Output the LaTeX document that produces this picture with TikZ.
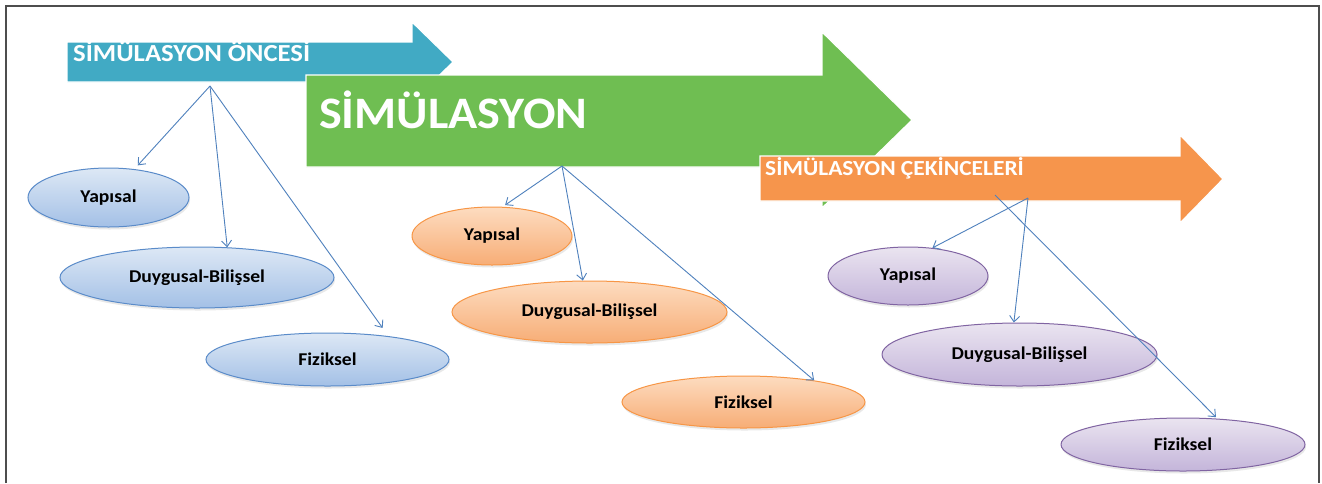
\documentclass[tikz,border=0pt]{standalone}
\usepackage{fontspec}
\setmainfont{Carlito}
\usetikzlibrary{arrows.meta,shapes.geometric,shadows}
\definecolor{framec}{HTML}{4D4D4D}
\definecolor{arrblue}{HTML}{41AAC4}
\definecolor{arrgreen}{HTML}{6FBE52}
\definecolor{arrorange}{HTML}{F6954C}
\definecolor{linec}{HTML}{4F81BD}
\definecolor{bTop}{HTML}{DDE8F5}
\definecolor{bBot}{HTML}{A3C0E6}
\definecolor{bLine}{HTML}{5A8BC9}
\definecolor{oTop}{HTML}{FDDCC0}
\definecolor{oBot}{HTML}{F7AD76}
\definecolor{oLine}{HTML}{F79646}
\definecolor{pTop}{HTML}{EAE4F0}
\definecolor{pBot}{HTML}{C4B5DA}
\definecolor{pLine}{HTML}{8064A2}
\newcommand{\wide}[1]{\scalebox{1.09}[1]{#1}}
\tikzset{
  bigarrow/.style={draw=white, line width=1.2pt},
  arrlabel/.style={anchor=base west, inner sep=0pt, text=white, font=\bfseries},
  ell/.style={ellipse, inner sep=0pt, line width=1pt, font=\bfseries\fontsize{18}{20}\selectfont,
    drop shadow={opacity=0.18, shadow xshift=1pt, shadow yshift=-2.5pt}},
  bell/.style={ell, draw=bLine, top color=bTop, bottom color=bBot},
  oell/.style={ell, draw=oLine, top color=oTop, bottom color=oBot},
  pell/.style={ell, draw=pLine, top color=pTop, bottom color=pBot},
  conn/.style={draw=linec, line width=0.9pt, -{Straight Barb[length=6pt,width=10pt]}}
}
\begin{document}
\begin{tikzpicture}[x=1pt,y=-1pt]
\useasboundingbox (0,0) rectangle (1322,483);
\fill[white] (0,0) rectangle (1322,483);
\draw[framec, line width=1.3pt] (6,483) -- (6,6) -- (1319,6) -- (1319,483);

% big arrows
\filldraw[bigarrow, fill=arrblue] (67,42) -- (412,42) -- (412,22) -- (453,62) -- (412,102) -- (412,82) -- (67,82) -- cycle;
\node[arrlabel, font=\bfseries\fontsize{24.5}{26}\selectfont] (tpre) at (73,61) {\wide{SİMÜLASYON ÖNCESİ}};

\filldraw[bigarrow, fill=arrgreen] (306,75) -- (822,75) -- (822,32) -- (912,120) -- (822,208) -- (822,167) -- (306,167) -- cycle;
\node[arrlabel, font=\bfseries\fontsize{45}{46}\selectfont] (tsim) at (319,128) {\scalebox{1.07}[1]{SİMÜLASYON}};

\filldraw[bigarrow, fill=arrorange] (760,156) -- (1180,156) -- (1180,135) -- (1223,179) -- (1180,223) -- (1180,201) -- (760,201) -- cycle;
\node[arrlabel, font=\bfseries\fontsize{21.5}{22}\selectfont] (tcek) at (765,175) {\wide{SİMÜLASYON ÇEKİNCELERİ}};

% ellipses
\node[bell, minimum width=161pt, minimum height=59pt] (bY) at (108.5,197.5) {\wide{Yapısal}};
\node[bell, minimum width=274pt, minimum height=61pt] (bD) at (197,277.5) {\wide{Duygusal-Bilişsel}};
\node[bell, minimum width=243pt, minimum height=53pt] (bF) at (327.5,359.5) {\wide{Fiziksel}};

\node[oell, minimum width=160pt, minimum height=58pt] (oY) at (492,236) {\wide{Yapısal}};
\node[oell, minimum width=275pt, minimum height=62pt] (oD) at (589.5,312) {\wide{Duygusal-Bilişsel}};
\node[oell, minimum width=243pt, minimum height=52pt] (oF) at (743.5,402) {\wide{Fiziksel}};

\node[pell, minimum width=160pt, minimum height=58pt] (pY) at (908,276) {\wide{Yapısal}};
\node[pell, minimum width=275pt, minimum height=63pt] (pD) at (1019.5,354.5) {\wide{Duygusal-Bilişsel}};
\node[pell, minimum width=244pt, minimum height=53pt] (pF) at (1183,444.5) {\wide{Fiziksel}};

% connector origins
\coordinate (bsrc) at (210,86);
\coordinate (osrc) at (562,166);
\coordinate (psrc) at (1028,198);
\coordinate (psrcb) at (995,195);

% connectors
\draw[conn, shorten >=5pt] (bsrc) -- (bY);
\draw[conn] (bsrc) -- (bD.45);
\draw[conn, shorten >=10pt] (bsrc) -- (bF.21);

\draw[conn, shorten >=3pt] (osrc) -- (oY.70);
\draw[conn] (osrc) -- (oD.102);
\draw[conn] (osrc) -- (oF.17);

\draw[conn] (psrc) -- (pY.49);
\draw[conn] (psrc) -- (pD.100);
\draw[conn, shorten >=2pt] (psrcb) -- (pF.37);
\end{tikzpicture}
\end{document}
